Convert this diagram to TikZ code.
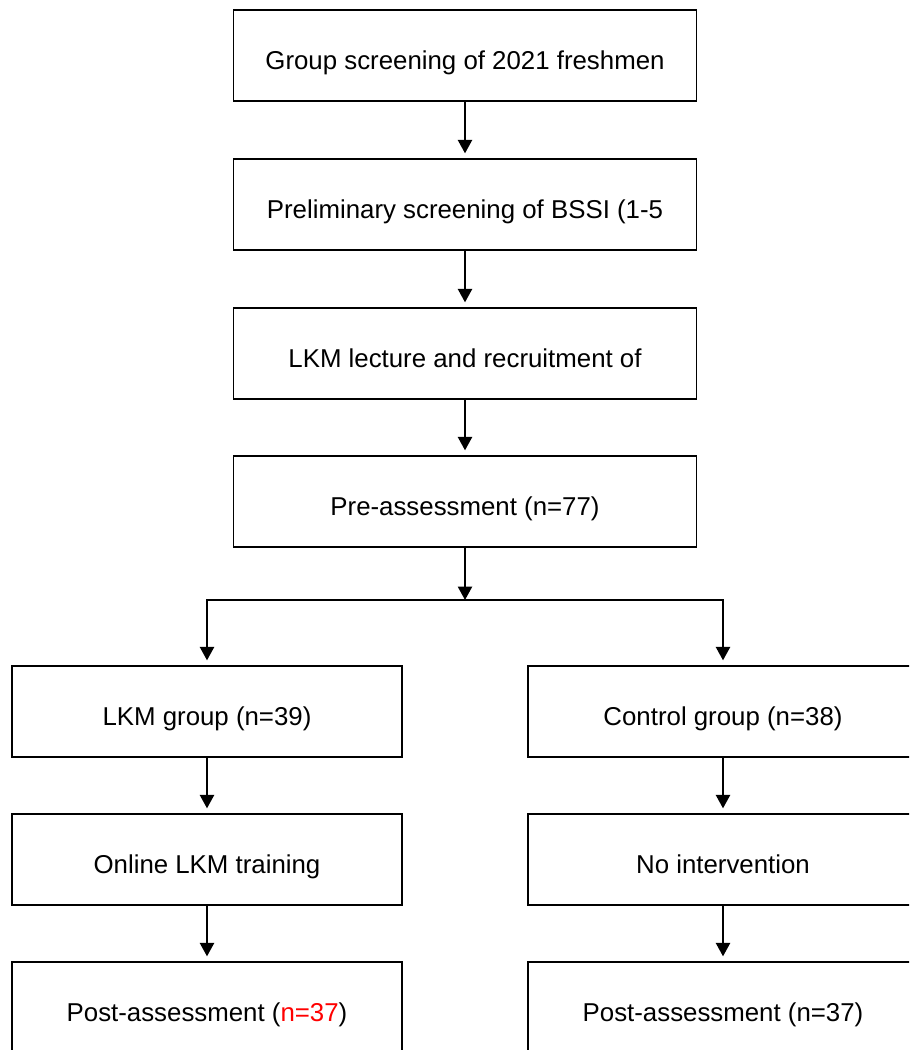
\documentclass[tikz,border=0pt]{standalone}
\usepackage{fontspec}
\setmainfont{Liberation Sans}
\usepackage{tikz}
\usetikzlibrary{arrows.meta}
\tikzset{
	stagebox/.style={draw=black, line width=0.85pt, minimum width=#1, minimum height=91*0.02cm, inner sep=0pt, text height=17pt, text depth=0.6pt, font=\fontsize{14.7}{17}\selectfont},
	stagebox/.default={463*0.02cm},
	flowarrow/.style={line width=1.15pt, -{Triangle[width=8pt,length=7.6pt]}, shorten >=2.8pt}
}

\begin{document}
\begin{tikzpicture}[x=0.02cm, y=-0.02cm]
			%%%%% START %%%%%
			
			\clip (0, 0) rectangle (909, 1050);
			\useasboundingbox (0, 0) rectangle (909, 1050);
			
			\node[stagebox] (screen) at (465, 55.5) {Group screening of 2021 freshmen};
			\node[stagebox] (bssi) at (465, 204.5) {Preliminary screening of BSSI (1-5};
			\node[stagebox] (lecture) at (465, 353.5) {LKM lecture and recruitment of};
			\node[stagebox] (pre) at (465, 501.5) {Pre-assessment (n=77)};
			
			\draw[flowarrow] (screen) -- (bssi);
			\draw[flowarrow] (bssi) -- (lecture);
			\draw[flowarrow] (lecture) -- (pre);
			
			\coordinate (split) at (465, 600);
			\draw[flowarrow, shorten >=0pt] (pre) -- (split);
			
			\node[stagebox=390*0.02cm] (lkm) at (207, 711.5) {LKM group (n=39)};
			\node[stagebox=390*0.02cm] (ctrl) at (723, 711.5) {Control group (n=38)};
			
			\draw[flowarrow] (split) -| (lkm);
			\draw[flowarrow] (split) -| (ctrl);
			
			\node[stagebox=390*0.02cm] (online) at (207, 859.5) {Online LKM training};
			\node[stagebox=390*0.02cm] (nointer) at (723, 859.5) {No intervention};
			
			\draw[flowarrow] (lkm) -- (online);
			\draw[flowarrow] (ctrl) -- (nointer);
			
			\node[stagebox=390*0.02cm] (postl) at (207, 1007.5) {Post-assessment (\textcolor{red}{n=37})};
			\node[stagebox=390*0.02cm] (postc) at (723, 1007.5) {Post-assessment (n=37)};
			
			\draw[flowarrow] (online) -- (postl);
			\draw[flowarrow] (nointer) -- (postc);
			
			%%%%% END %%%%%
		\end{tikzpicture}
\end{document}
